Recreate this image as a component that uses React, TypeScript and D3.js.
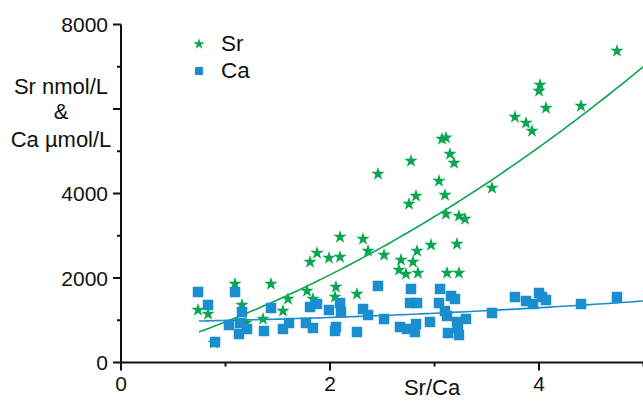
import React from "react";
import * as d3 from "d3";

// Sr (nmol/L) vs Sr/Ca ratio
const srRatio = [
  0.737, 0.833, 0.89, 1.091, 1.158, 1.196, 1.359, 1.435, 1.55, 1.598,
  1.78, 1.809, 1.876, 1.837, 1.99, 2.096, 2.096, 2.057, 2.048, 2.258,
  2.316, 2.364, 2.459, 2.517, 2.679, 2.66, 2.727, 2.775, 2.756, 2.823,
  2.794, 2.833, 2.842, 2.967, 3.043, 3.072, 3.11, 3.1, 3.11, 3.12,
  3.148, 3.187, 3.215, 3.234, 3.234, 3.292, 3.55, 3.77, 3.876, 3.933,
  4.0, 4.01, 4.067, 4.402, 4.746,
];
const srValues = [
  1243, 1148, 462, 1858, 1361, 935, 1030, 1858, 1219, 1503,
  1692, 2379, 2592, 1503, 2474, 2497, 2971, 1787, 1550, 1621,
  2923, 2639, 4462, 2545, 2426, 2189, 2095, 4769, 3752, 3941,
  2379, 2639, 2118, 2781, 4296, 5290, 5320, 3965, 3515, 2118,
  4935, 4722, 2805, 3468, 2118, 3397, 4130, 5811, 5669, 5480,
  6427, 6569, 6024, 6071, 7373,
];

// Ca (µmol/L) vs Sr/Ca ratio
const caRatio = [
  0.737, 0.833, 0.9, 1.091, 1.158, 1.033, 1.139, 1.129, 1.206, 1.368,
  1.435, 1.55, 1.608, 1.809, 1.876, 1.77, 1.837, 1.99, 2.096, 2.105,
  2.057, 2.048, 2.258, 2.316, 2.364, 2.459, 2.517, 2.67, 2.737, 2.775,
  2.766, 2.833, 2.823, 2.813, 2.957, 3.053, 3.043, 3.158, 3.196, 3.1,
  3.12, 3.215, 3.301, 3.225, 3.129, 3.234, 3.55, 3.77, 3.876, 3.943,
  4.0, 4.029, 4.067, 4.402, 4.746,
];
const caValues = [
  1669, 1361, 485, 1669, 1195, 888, 935, 675, 793, 746,
  1290, 793, 935, 1314, 1385, 935, 817, 1243, 1408, 1195,
  840, 746, 722, 1266, 1124, 1811, 1030, 840, 793, 1740,
  1408, 1408, 911, 722, 959, 1740, 1408, 1574, 1503, 1219,
  1101, 959, 1030, 817, 698, 651, 1172, 1550, 1456, 1385,
  1645, 1550, 1479, 1385, 1550,
];

// Polynomial trend coefficients [c0, c1, c2] and fitted range
const srTrend = [114.5, 715.5, 132.5];
const caTrend = [954, 26.3, 14.8];
const trendRange = [0.746, 5.0];

const xTicksMajor = [0, 2, 4];
const xTicksMinor = [1, 3, 5];
const yTicksMajor = [0, 2000, 4000, 6000, 8000];
const yTicksMinor = [1000, 3000, 5000, 7000];
const yTickLabels = [0, 2000, 4000, 8000];

const W = 643;
const H = 401;
const GREEN = "#08a64f";
const BLUE = "#1a8ecf";
const FONT = "'Liberation Sans', Arial, Helvetica, sans-serif";

export default function App() {
  const x = d3.scaleLinear().domain([0, 5]).range([121, 643.5]);
  const y = d3.scaleLinear().domain([0, 8000]).range([362.5, 24.5]);

  const poly = (c: number[]) => (v: number) => c[0] + c[1] * v + c[2] * v * v;
  const samples = d3.range(0, 101).map(
    (i) => trendRange[0] + ((trendRange[1] - trendRange[0]) * i) / 100
  );
  const line = d3
    .line<[number, number]>()
    .x((d) => x(d[0]))
    .y((d) => y(d[1]));
  const srPath = line(samples.map((v) => [v, poly(srTrend)(v)]));
  const caPath = line(samples.map((v) => [v, poly(caTrend)(v)]));

  const star = d3.symbol().type(d3.symbolStar).size(56)();
  const starLegend = d3.symbol().type(d3.symbolStar).size(38)();
  const sq = 10.5;

  const x0 = x(0);
  const y0 = y(0);

  return (
    <div style={{ position: "fixed", left: 0, top: 0 }}>
      <svg width={W} height={H} style={{ display: "block", background: "#fff" }}>
        {/* trend lines */}
        <path d={srPath ?? ""} fill="none" stroke={GREEN} strokeWidth={1.6} />
        <path d={caPath ?? ""} fill="none" stroke={BLUE} strokeWidth={1.6} />

        {/* Sr points */}
        {srRatio.map((r, i) => (
          <path
            key={`s${i}`}
            d={star ?? ""}
            transform={`translate(${x(r)},${y(srValues[i])})`}
            fill={GREEN}
          />
        ))}
        {/* Ca points */}
        {caRatio.map((r, i) => (
          <rect
            key={`c${i}`}
            x={x(r) - sq / 2}
            y={y(caValues[i]) - sq / 2}
            width={sq}
            height={sq}
            fill={BLUE}
          />
        ))}

        {/* axes */}
        <g stroke="#111" strokeWidth={2}>
          <line x1={x0} x2={x0} y1={y(8000)} y2={y0} />
          <line x1={x0} x2={x(5)} y1={y0} y2={y0} />
          {yTicksMajor.map((t) => (
            <line key={`ym${t}`} x1={x0 - 8} x2={x0} y1={y(t)} y2={y(t)} />
          ))}
          {yTicksMinor.map((t) => (
            <line key={`yn${t}`} x1={x0 - 4} x2={x0} y1={y(t)} y2={y(t)} />
          ))}
          {xTicksMajor.map((t) => (
            <line key={`xm${t}`} x1={x(t)} x2={x(t)} y1={y0} y2={y0 + 8} />
          ))}
          {xTicksMinor.map((t) => (
            <line key={`xn${t}`} x1={x(t)} x2={x(t)} y1={y0} y2={y0 + 4} />
          ))}
        </g>

        <g fontFamily={FONT} fontSize={21} fill="#111">
          {yTickLabels.map((t) => (
            <text key={`yl${t}`} x={x0 - 13} y={y(t) + 7.5} textAnchor="end">
              {t}
            </text>
          ))}
          {xTicksMajor.map((t) => (
            <text key={`xl${t}`} x={x(t)} y={391} textAnchor="middle">
              {t}
            </text>
          ))}
        </g>

        {/* axis titles */}
        <g fontFamily={FONT} fontSize={22} fill="#111" textAnchor="middle">
          <text x={61} y={94}>Sr nmol/L</text>
          <text x={61} y={119}>&amp;</text>
          <text x={61} y={147}>Ca µmol/L</text>
          <text x={432} y={395}>Sr/Ca</text>
        </g>

        {/* legend */}
        <path d={starLegend ?? ""} transform="translate(199,44)" fill={GREEN} />
        <rect x={199 - 4} y={71 - 4} width={8} height={8} fill={BLUE} />
        <g fontFamily={FONT} fontSize={22.5} fill="#111">
          <text x={221} y={51}>Sr</text>
          <text x={221} y={78}>Ca</text>
        </g>
      </svg>
    </div>
  );
}
